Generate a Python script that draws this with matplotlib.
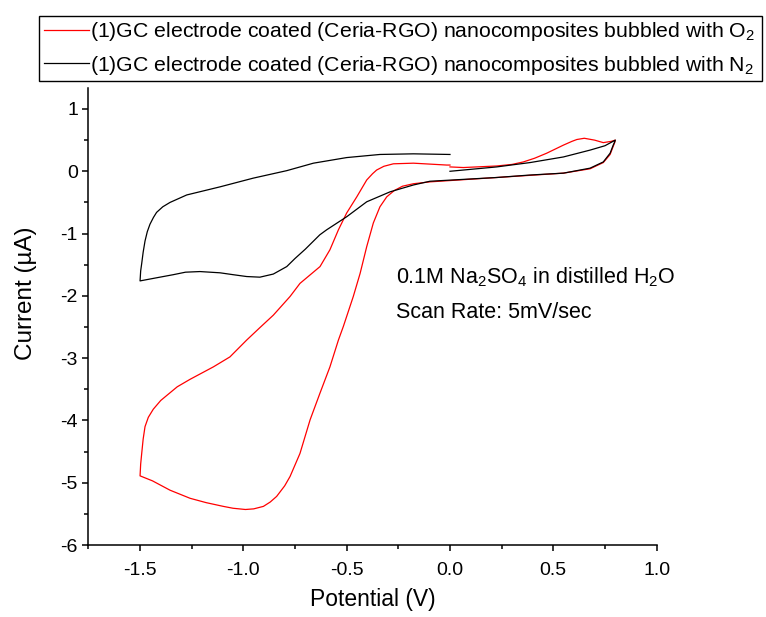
import matplotlib
matplotlib.use("Agg")
import matplotlib.pyplot as plt
from matplotlib.ticker import MultipleLocator

plt.rcParams['font.family'] = ['Liberation Sans', 'DejaVu Sans']
plt.rcParams['mathtext.fontset'] = 'custom'
plt.rcParams['mathtext.rm'] = 'Liberation Sans'
plt.rcParams['mathtext.it'] = 'Liberation Sans:italic'
plt.rcParams['mathtext.bf'] = 'Liberation Sans:bold'
plt.rcParams['axes.unicode_minus'] = False

# ---- data (potential V, current uA) ----
o2_potential = [0.0, 0.065, 0.226, 0.30, 0.355, 0.41, 0.468, 0.549, 0.59, 0.614, 0.65, 0.70, 0.742, 0.78, 0.80,
                0.797, 0.79, 0.775, 0.742, 0.678, 0.549, 0.388, 0.226, 0.065, -0.097, -0.177, -0.23, -0.27,
                -0.306, -0.339, -0.371, -0.403, -0.435, -0.468, -0.516, -0.54, -0.581, -0.629,
                -0.677, -0.726, -0.774, -0.80, -0.839, -0.87, -0.903, -0.95, -0.99, -1.05, -1.097,
                -1.18, -1.258, -1.355, -1.44, -1.50,
                -1.497, -1.492, -1.485, -1.476, -1.46, -1.436, -1.40, -1.371, -1.32, -1.258, -1.145,
                -1.065, -0.984, -0.92, -0.855, -0.774,
                -0.726, -0.629, -0.581, -0.54, -0.50, -0.451, -0.403, -0.375, -0.355, -0.32, -0.274,
                -0.177, -0.016, 0.0]
o2_current = [0.07, 0.06, 0.085, 0.11, 0.15, 0.21, 0.29, 0.42, 0.48, 0.51, 0.53, 0.50, 0.46, 0.48, 0.50,
              0.46, 0.40, 0.27, 0.14, 0.04, -0.03, -0.065, -0.10, -0.135, -0.17, -0.20, -0.24, -0.31,
              -0.41, -0.57, -0.83, -1.21, -1.64, -2.01, -2.49, -2.71, -3.14, -3.56,
              -3.99, -4.53, -4.90, -5.05, -5.22, -5.31, -5.38, -5.42, -5.43, -5.41, -5.38,
              -5.32, -5.25, -5.12, -4.97, -4.89,
              -4.70, -4.53, -4.30, -4.10, -3.95, -3.82, -3.68, -3.60, -3.46, -3.34, -3.14,
              -2.98, -2.71, -2.51, -2.31, -2.01,
              -1.80, -1.53, -1.26, -0.94, -0.67, -0.41, -0.14, -0.04, 0.02, 0.08, 0.12,
              0.13, 0.10, 0.10]

n2_potential = [0.0, 0.226, 0.388, 0.549, 0.678, 0.75, 0.80,
                0.797, 0.79, 0.775, 0.742, 0.678, 0.549, 0.388, 0.226, 0.065, -0.097, -0.177, -0.29,
                -0.403, -0.50, -0.597, -0.63, -0.70, -0.75, -0.79, -0.855, -0.92, -0.984,
                -1.05, -1.113, -1.21, -1.28, -1.339, -1.42, -1.50,
                -1.497, -1.492, -1.485, -1.476, -1.465, -1.452, -1.435, -1.42, -1.39, -1.355,
                -1.274, -1.113, -0.952, -0.79, -0.661,
                -0.50, -0.339, -0.177, 0.0]
n2_current = [0.0, 0.07, 0.14, 0.23, 0.34, 0.41, 0.50,
              0.47, 0.42, 0.29, 0.15, 0.05, -0.03, -0.06, -0.10, -0.13, -0.16, -0.22, -0.33,
              -0.49, -0.73, -0.94, -1.02, -1.25, -1.40, -1.53, -1.65, -1.70, -1.69,
              -1.66, -1.63, -1.61, -1.62, -1.66, -1.71, -1.76,
              -1.60, -1.48, -1.30, -1.12, -0.97, -0.85, -0.74, -0.66, -0.57, -0.50,
              -0.38, -0.25, -0.11, 0.01, 0.13,
              0.22, 0.27, 0.28, 0.27]

labels = ['(1)GC electrode coated (Ceria-RGO) nanocomposites bubbled with O$_2$',
          '(1)GC electrode coated (Ceria-RGO) nanocomposites bubbled with N$_2$']
annotation_lines = ['0.1M Na$_2$SO$_4$ in distilled H$_2$O', 'Scan Rate: 5mV/sec']

W, H = 766, 617
fig = plt.figure(figsize=(W / 100, H / 100), dpi=100)
ax = fig.add_axes([88.4 / W, (H - 545) / H, 568.2 / W, 457 / H])

l1, = ax.plot(o2_potential, o2_current, color='#ff0000', lw=0.9)
l2, = ax.plot(n2_potential, n2_current, color='black', lw=0.9)

ax.set_xlim(-1.75, 1.0)
ax.set_ylim(-6, 1.337)
ax.xaxis.set_major_locator(MultipleLocator(0.5))
ax.xaxis.set_minor_locator(MultipleLocator(0.25))
ax.yaxis.set_major_locator(MultipleLocator(1))
ax.yaxis.set_minor_locator(MultipleLocator(0.5))
ax.xaxis.set_major_formatter(plt.FuncFormatter(lambda v, p: f"{v:.1f}"))
ax.yaxis.set_major_formatter(plt.FuncFormatter(lambda v, p: f"{v:.0f}"))

for s in ['top', 'right']:
    ax.spines[s].set_visible(False)
for s in ['left', 'bottom']:
    ax.spines[s].set_linewidth(1.1)

ax.tick_params(which='major', direction='out', length=4.5, width=1.1, labelsize=14)
ax.tick_params(which='minor', direction='out', length=2.8, width=1.1)
ax.tick_params(axis='x', which='major', pad=8)
ax.tick_params(axis='y', which='major', pad=3)

ax.set_xlabel('Potential (V)', fontsize=16.5, labelpad=6)
ax.set_ylabel('Current (µA)', fontsize=17.5)
ax.yaxis.set_label_coords(-0.09, 0.55)

ax.text(0.541, 0.573, annotation_lines[0], transform=ax.transAxes, fontsize=15.5, va='baseline')
ax.text(0.541, 0.497, annotation_lines[1], transform=ax.transAxes, fontsize=15.5, va='baseline')

x0 = 39.3 / W
y1 = 1 - 15.7 / H
y0 = 1 - 87.3 / H
leg = fig.legend([l1, l2], labels, loc='upper left', mode='expand',
                 bbox_to_anchor=(x0, y0, 762 / W - x0, y1 - y0), borderaxespad=0,
                 fontsize=15.3, frameon=True, fancybox=False, edgecolor='black',
                 handlelength=2.15, handletextpad=0.05, borderpad=0.2, labelspacing=0.5)
leg.get_frame().set_linewidth(1.0)
leg.get_frame().set_alpha(None)
leg.get_frame().set_facecolor('white')

fig.savefig('out.png', dpi=100)
